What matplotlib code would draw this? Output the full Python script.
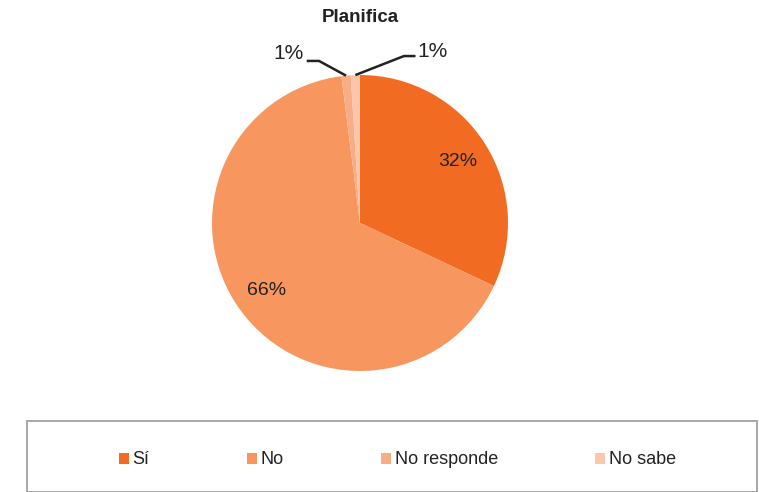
import matplotlib.pyplot as plt
import numpy as np
from matplotlib.patches import Rectangle

plt.rcParams['font.family'] = ['Liberation Sans', 'DejaVu Sans']

# Data
categories = ['Sí', 'No', 'No responde', 'No sabe']
values = [32, 66, 1, 1]
colors = ['#F26B22', '#F7965F', '#F9AD86', '#FBC6A9']
title = 'Planifica'

W, H = 759, 492
fig = plt.figure(figsize=(W / 100, H / 100), dpi=100)

# pie axes: center (360, 223) px, radius 148 px
cx, cy, r = 360, 223, 148
ax = fig.add_axes([(cx - r) / W, (H - cy - r) / H, 2 * r / W, 2 * r / H])
wedges, texts, autotexts = ax.pie(values, colors=colors, startangle=90, counterclock=False,
                                  autopct='%1.0f%%', pctdistance=0.78,
                                  wedgeprops=dict(linewidth=0),
                                  textprops=dict(fontsize=14, color='#222222'))
ax.set_xlim(-1, 1)
ax.set_ylim(-1, 1)
ax.set_aspect('equal')

# small slices: move labels outside with leader lines
offsets = {2: ((-0.486, 1.142), (-0.277, 1.095), (-0.36, 1.095)),
           3: ((0.493, 1.162), (0.297, 1.128), (0.375, 1.128))}
for i, (tpos, elbow, lend) in offsets.items():
    w = wedges[i]
    ang = np.deg2rad((w.theta1 + w.theta2) / 2)
    px, py = np.cos(ang), np.sin(ang)
    autotexts[i].set_position(tpos)
    autotexts[i].set_fontsize(15)
    ax.plot([px, elbow[0], lend[0]], [py, elbow[1], lend[1]], color='#222222', lw=1.8,
            clip_on=False, solid_capstyle='butt')

fig.text(cx / W, 1 - 18 / H, title, ha='center', va='center', fontsize=13.5, fontweight='bold',
         color='#222222')

# legend frame
fig.patches.append(Rectangle((27 / W, 0), (757 - 27) / W, (H - 421) / H,
                             transform=fig.transFigure, fill=False, edgecolor='#9a9a9a', lw=1.2))
leg = fig.legend(wedges, categories, loc='center left', bbox_to_anchor=(119 / W, 1 - 460 / H),
                 ncol=4, frameon=False, fontsize=13, handlelength=0.55, handleheight=0.55,
                 handletextpad=0.2, columnspacing=5.4, borderpad=0, borderaxespad=0)
for t in leg.get_texts():
    t.set_color('#222222')

fig.savefig('out.png', dpi=100)
